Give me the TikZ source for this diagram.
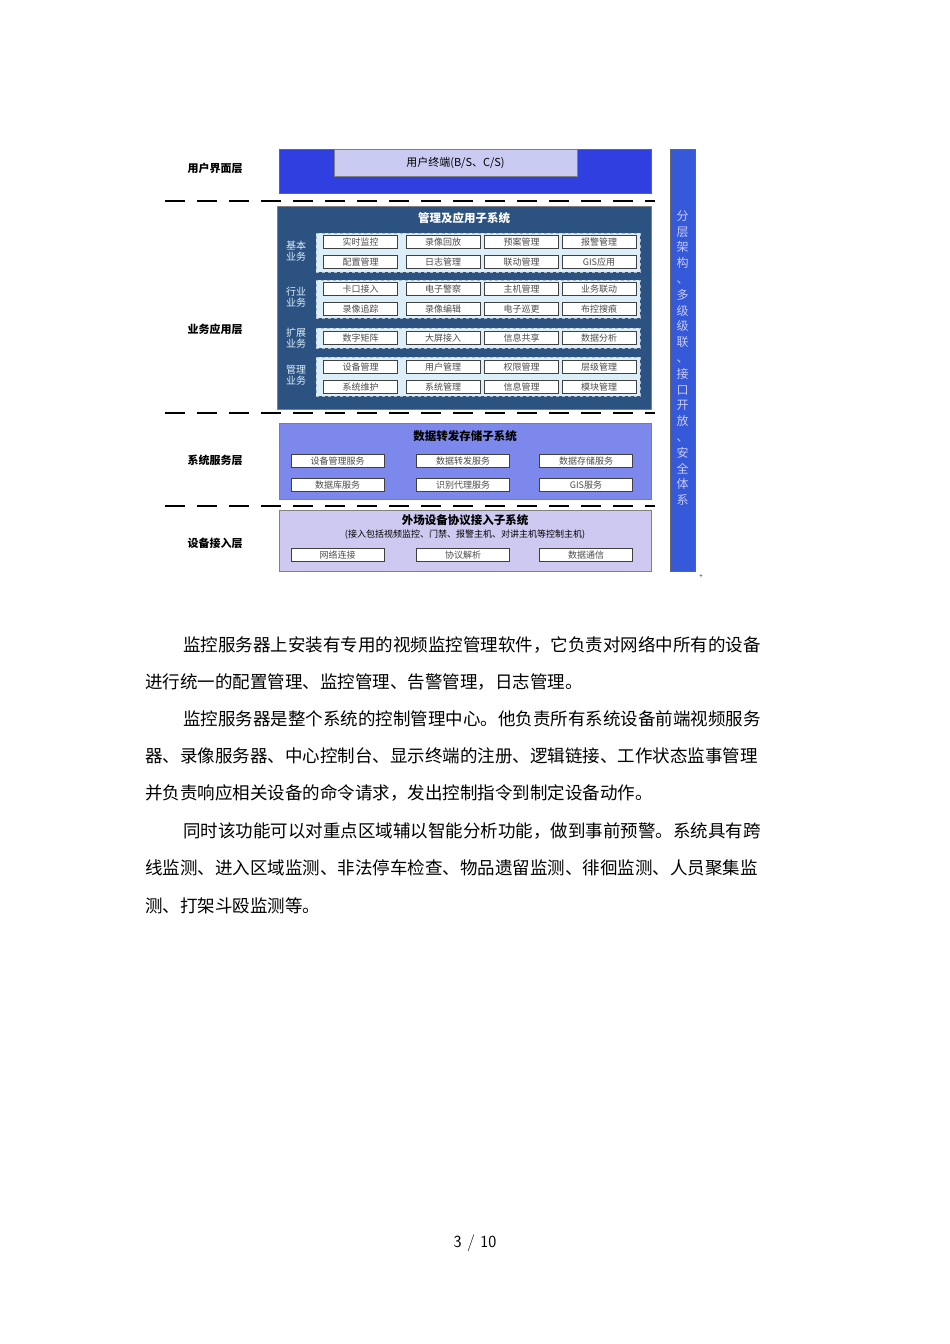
\documentclass[tikz,border=0pt]{standalone}
\usepackage{fontspec}
\setmainfont{Liberation Serif}
\newfontfamily\cjk{Noto Sans CJK SC}
\newfontfamily\cjkserif{Noto Sans CJK SC}[FakeBold=0]
\definecolor{topblue}{HTML}{2F3FE0}
\definecolor{inner}{HTML}{C9CBF2}
\definecolor{dark}{HTML}{2C5282}
\definecolor{grp}{HTML}{DCEFF8}
\definecolor{svc}{HTML}{7D88EC}
\definecolor{dev}{HTML}{CEC9F1}
\definecolor{bar}{HTML}{3559D8}
\begin{document}
\begin{tikzpicture}[x=1pt,y=-1pt,
  item/.style={draw=black!75,fill=white,minimum width=74pt,minimum height=13pt,inner sep=0pt,font=\cjk\fontsize{9}{10}\selectfont,text=black!70},
  sitem/.style={item,minimum width=93pt},
  grpbox/.style={draw=dark!40,dashed,fill=grp},
  glabel/.style={font=\cjk\fontsize{10}{11}\selectfont,text=grp,align=center},
  layer/.style={font=\cjk\bfseries\fontsize{11}{12}\selectfont},
  para/.style={anchor=west,inner sep=0pt,font=\cjk\fontsize{17.5}{20}\selectfont},
  dline/.style={line width=2pt,dash pattern=on 20pt off 12pt}]
\useasboundingbox (0,0) rectangle (950,1344);
% top layer
\node[draw=black!60,fill=topblue,minimum width=372pt,minimum height=44pt,inner sep=0pt] (top) at (465,171) {};
\node[draw=black!50,fill=inner,minimum width=243pt,minimum height=27pt,inner sep=0pt,font=\cjk\fontsize{11}{12}\selectfont] (term) at (455.5,162.5) {用户终端(B/S、C/S)};
% right bar
\node[draw=black!60,fill=bar,minimum width=25pt,minimum height=422pt,inner sep=0pt] (bar) at (682.5,360) {};
\node[font=\cjk\fontsize{12}{15.8}\selectfont,text=inner,align=center] (bartext) at (682.5,358) {分\\层\\架\\构\\、\\多\\级\\级\\联\\、\\接\\口\\开\\放\\、\\安\\全\\体\\系};
\node[font=\fontsize{7}{8}\selectfont] (plus) at (701,577) {+};
% dashed lines
\coordinate (d1a) at (165,201); \coordinate (d1b) at (655,201);
\coordinate (d2a) at (165,413); \coordinate (d2b) at (655,413);
\coordinate (d3a) at (165,506); \coordinate (d3b) at (655,506);
\draw[dline] (d1a) -- (d1b);
\draw[dline] (d2a) -- (d2b);
\draw[dline] (d3a) -- (d3b);
% layer labels
\node[layer] (l1) at (215,168) {用户界面层};
\node[layer] (l2) at (215,329) {业务应用层};
\node[layer] (l3) at (215,460) {系统服务层};
\node[layer] (l4) at (215,543) {设备接入层};
% dark box
\node[draw=black!50,fill=dark,minimum width=374pt,minimum height=203pt,inner sep=0pt] (app) at (464,307.5) {};
\node[font=\cjk\bfseries\fontsize{11.5}{12}\selectfont,text=white] (apptitle) at (464,218) {管理及应用子系统};
% groups
\node[grpbox,minimum width=324pt,minimum height=39pt,inner sep=0pt] (g1) at (478,252.5) {};
\node[grpbox,minimum width=324pt,minimum height=38pt,inner sep=0pt] (g2) at (478,299) {};
\node[grpbox,minimum width=324pt,minimum height=20pt,inner sep=0pt] (g3) at (478,338) {};
\node[grpbox,minimum width=324pt,minimum height=39pt,inner sep=0pt] (g4) at (478,376.5) {};
\node[glabel] (gl1) at (296,251) {基本\\业务};
\node[glabel] (gl2) at (296,297) {行业\\业务};
\node[glabel] (gl3) at (296,338) {扩展\\业务};
\node[glabel] (gl4) at (296,375) {管理\\业务};
\foreach \y/\a/\b/\c/\d [count=\i] in {242/实时监控/录像回放/预案管理/报警管理, 262/配置管理/日志管理/联动管理/GIS应用, 289/卡口接入/电子警察/主机管理/业务联动, 309/录像追踪/录像编辑/电子巡更/布控搜痕, 338/数字矩阵/大屏接入/信息共享/数据分析, 367/设备管理/用户管理/权限管理/层级管理, 387/系统维护/系统管理/信息管理/模块管理}{
  \node[item] (a\i) at (360.5,\y) {\a};
  \node[item] (b\i) at (443,\y) {\b};
  \node[item] (c\i) at (521.5,\y) {\c};
  \node[item] (e\i) at (599,\y) {\d};
}
% service layer
\node[draw=black!50,fill=svc,minimum width=372pt,minimum height=76pt,inner sep=0pt] (svcbox) at (465,461) {};
\node[font=\cjk\bfseries\fontsize{11.5}{12}\selectfont] (svctitle) at (465,436) {数据转发存储子系统};
\node[sitem] (s1) at (337.5,461) {设备管理服务};
\node[sitem] (s2) at (463,461) {数据转发服务};
\node[sitem] (s3) at (586,461) {数据存储服务};
\node[sitem] (s4) at (337.5,485) {数据库服务};
\node[sitem] (s5) at (463,485) {识别代理服务};
\node[sitem] (s6) at (586,485) {GIS服务};
% device layer
\node[draw=black!50,fill=dev,minimum width=372pt,minimum height=61pt,inner sep=0pt] (devbox) at (465,540.5) {};
\node[font=\cjk\bfseries\fontsize{11.5}{12}\selectfont] (devtitle) at (465,520) {外场设备协议接入子系统};
\node[font=\cjk\fontsize{9}{10}\selectfont] (devsub) at (465,535) {(接入包括视频监控、门禁、报警主机、对讲主机等控制主机)};
\node[sitem] (t1) at (337.5,555) {网络连接};
\node[sitem] (t2) at (463,555) {协议解析};
\node[sitem] (t3) at (586,555) {数据通信};
% paragraphs
\node[para] (p1) at (183,645) {监控服务器上安装有专用的视频监控管理软件，它负责对网络中所有的设备};
\node[para] (p2) at (145,682) {进行统一的配置管理、监控管理、告警管理，日志管理。};
\node[para] (p3) at (183,719) {监控服务器是整个系统的控制管理中心。他负责所有系统设备前端视频服务};
\node[para] (p4) at (145,756) {器、录像服务器、中心控制台、显示终端的注册、逻辑链接、工作状态监事管理};
\node[para] (p5) at (145,793) {并负责响应相关设备的命令请求，发出控制指令到制定设备动作。};
\node[para] (p6) at (183,831) {同时该功能可以对重点区域辅以智能分析功能，做到事前预警。系统具有跨};
\node[para] (p7) at (145,868) {线监测、进入区域监测、非法停车检查、物品遗留监测、徘徊监测、人员聚集监};
\node[para] (p8) at (145,906) {测、打架斗殴监测等。};
\node[font=\fontsize{17}{20}\selectfont\sffamily] (pg) at (475,1243) {3 / 10};
\end{tikzpicture}
\end{document}
